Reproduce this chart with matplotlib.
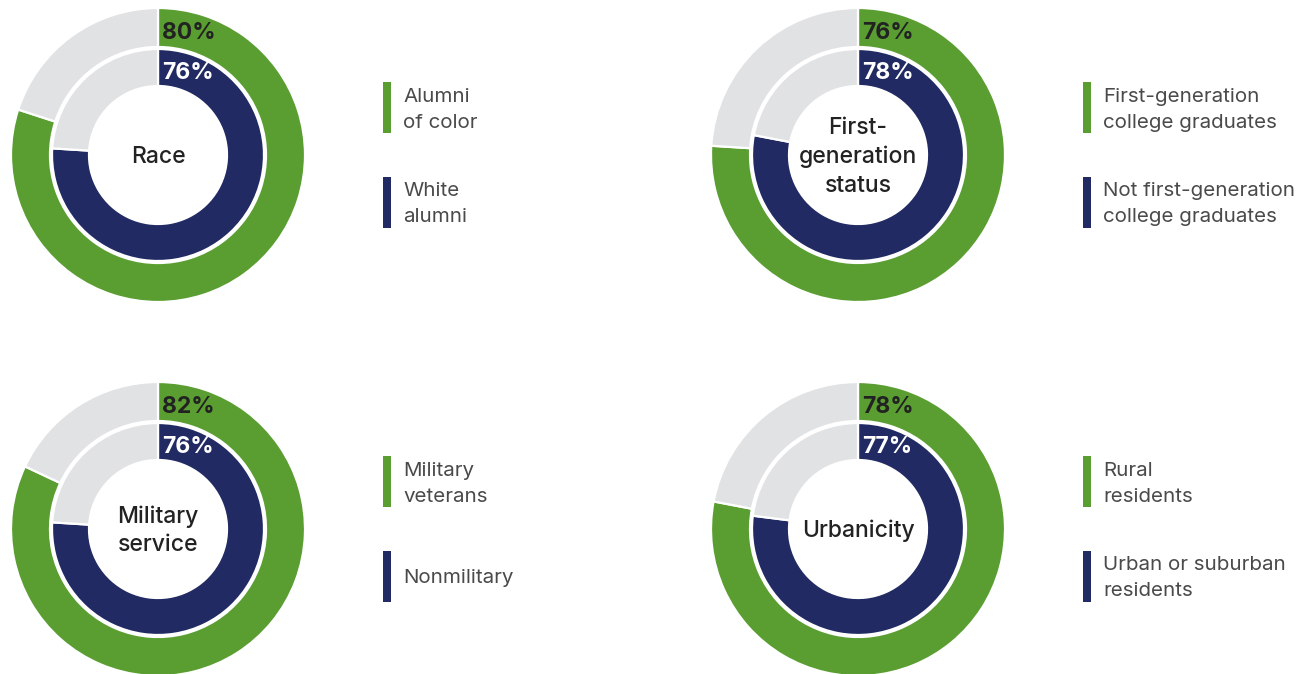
import matplotlib.pyplot as plt
from matplotlib.patches import Rectangle

# ------------------------------ Data ------------------------------

groups = ["Race", "First-\ngeneration\nstatus", "Military\nservice", "Urbanicity"]
outer_pct = [80, 76, 82, 78]
inner_pct = [76, 78, 76, 77]
outer_labels = ["Alumni\nof color", "First-generation\ncollege graduates",
                "Military\nveterans", "Rural\nresidents"]
inner_labels = ["White\nalumni", "Not first-generation\ncollege graduates",
                "Nonmilitary", "Urban or suburban\nresidents"]

# ------------------------------ Style ------------------------------

GREEN = '#5a9e32'
NAVY = '#212a62'
GRAY = '#e1e2e4'
W, H = 1309, 674

plt.rcParams['font.family'] = ['Inter', 'DejaVu Sans']

fig = plt.figure(figsize=(W / 100, H / 100), dpi=100)
ax = fig.add_axes([0, 0, 1, 1])

# donut centres in pixel coords (y from top)
centres = [(158, 155), (858, 155), (158, 529), (858, 529)]

for i, (cx, cy_top) in enumerate(centres):
    cy = H - cy_top

    # outer ring
    ax.pie([outer_pct[i], 100 - outer_pct[i]], colors=[GREEN, GRAY],
           startangle=90, counterclock=False, center=(cx, cy), radius=147,
           wedgeprops=dict(width=39, edgecolor='white', linewidth=1.6))
    # inner ring
    ax.pie([inner_pct[i], 100 - inner_pct[i]], colors=[NAVY, GRAY],
           startangle=90, counterclock=False, center=(cx, cy), radius=106,
           wedgeprops=dict(width=37, edgecolor='white', linewidth=1.6))

    ax.text(cx + 4, cy + 122, f"{outer_pct[i]}%", ha='left', va='center',
            fontsize=16.5, fontweight='bold', color='#222222')
    ax.text(cx + 4, cy + 82, f"{inner_pct[i]}%", ha='left', va='center',
            fontsize=16.5, fontweight='bold', color='white')
    ax.text(cx, cy - 2, groups[i], ha='center', va='center', fontsize=16.5,
            fontweight='medium', color='#222222', linespacing=1.38)

    # legend bars + labels
    bx = cx + 225
    ax.add_patch(Rectangle((bx, cy + 22), 8, 51, color=GREEN, lw=0))
    ax.add_patch(Rectangle((bx, cy - 73), 8, 51, color=NAVY, lw=0))
    ax.text(bx + 20, cy + 45, outer_labels[i], ha='left', va='center',
            fontsize=14.8, color='#4a4a4a', linespacing=1.58)
    ax.text(bx + 20, cy - 49, inner_labels[i], ha='left', va='center',
            fontsize=14.8, color='#4a4a4a', linespacing=1.58)

ax.set_xlim(0, W)
ax.set_ylim(0, H)
ax.set_aspect('equal')
ax.axis('off')

plt.savefig("out.png", dpi=100)
